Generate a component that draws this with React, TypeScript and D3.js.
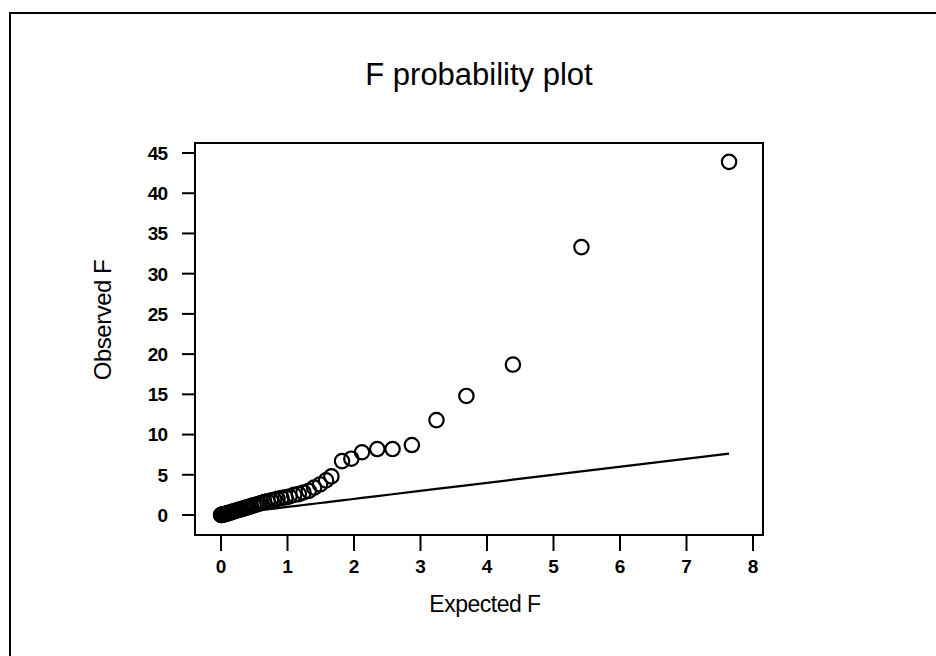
import React from "react";
import * as d3 from "d3";

const title = "F probability plot";
const xLabel = "Expected F";
const yLabel = "Observed F";
const xTicks = [0, 1, 2, 3, 4, 5, 6, 7, 8];
const yTicks = [0, 5, 10, 15, 20, 25, 30, 35, 40, 45];

// Expected F quantiles (x) and observed F (y)
const expectedF = [
  7.64, 5.42, 4.39, 3.69, 3.24, 2.87, 2.58, 2.35, 2.12, 1.96, 1.82, 1.66, 1.58,
  1.49, 1.4, 1.32, 1.24, 1.17, 1.1, 1.03, 0.97, 0.91, 0.85, 0.8, 0.75, 0.7,
  0.65, 0.61, 0.57, 0.53, 0.49, 0.45, 0.42, 0.39, 0.36, 0.33, 0.3, 0.27, 0.25,
  0.22, 0.2, 0.18, 0.16, 0.14, 0.12, 0.105, 0.09, 0.075, 0.06, 0.048, 0.036,
  0.026, 0.017, 0.01, 0.004, 0.001,
];
const observedF = [
  43.9, 33.3, 18.7, 14.8, 11.8, 8.7, 8.2, 8.2, 7.8, 7.0, 6.7, 4.8, 4.3, 3.8,
  3.4, 3.0, 2.8, 2.6, 2.5, 2.3, 2.2, 2.1, 2.0, 1.9, 1.8, 1.7, 1.6, 1.5, 1.4,
  1.3, 1.2, 1.1, 1.0, 0.95, 0.85, 0.8, 0.7, 0.65, 0.6, 0.52, 0.47, 0.42, 0.36,
  0.31, 0.27, 0.23, 0.19, 0.15, 0.12, 0.09, 0.07, 0.05, 0.03, 0.02, 0.01, 0.0,
];

const FONT = "'Liberation Sans', Arial, Helvetica, sans-serif";

export default function App() {
  const box = { left: 195, right: 763, top: 143, bottom: 535 };
  const x = d3.scaleLinear().domain([0, 8]).range([221, 753]);
  const y = d3.scaleLinear().domain([0, 45]).range([515, 153]);

  const pts = expectedF.map((e, i) => ({ e, o: observedF[i] }));
  const refSorted = [...expectedF].sort((a, b) => a - b);
  const line = d3
    .line<number>()
    .x((d) => x(d))
    .y((d) => y(d));

  return (
    <svg
      width={936}
      height={656}
      style={{ position: "absolute", left: 0, top: 0, display: "block", background: "#fff" }}
      fontFamily={FONT}
    >
      <rect x={0} y={0} width={936} height={656} fill="#fff" />
      <rect x={10} y={13} width={940} height={670} fill="none" stroke="#000" strokeWidth={2} />

      <text x={479} y={85} textAnchor="middle" fontSize={31} fill="#000">
        {title}
      </text>

      {/* reference line */}
      <path d={line(refSorted) || ""} fill="none" stroke="#000" strokeWidth={2.2} />

      {/* points */}
      {pts.map((p, i) => (
        <circle
          key={i}
          cx={x(p.e)}
          cy={y(p.o)}
          r={7.2}
          fill="none"
          stroke="#000"
          strokeWidth={2.2}
        />
      ))}

      {/* plot box */}
      <rect
        x={box.left}
        y={box.top}
        width={box.right - box.left}
        height={box.bottom - box.top}
        fill="none"
        stroke="#000"
        strokeWidth={2}
      />

      {/* y axis */}
      {yTicks.map((t) => (
        <g key={"y" + t}>
          <line x1={182} x2={box.left} y1={y(t)} y2={y(t)} stroke="#000" strokeWidth={2} />
          <text
            x={167}
            y={y(t)}
            dy="0.36em"
            textAnchor="end"
            fontSize={19}
            fontWeight="bold"
            letterSpacing={-1}
            fill="#000"
          >
            {t}
          </text>
        </g>
      ))}

      {/* x axis */}
      {xTicks.map((t) => (
        <g key={"x" + t}>
          <line x1={x(t)} x2={x(t)} y1={box.bottom} y2={551} stroke="#000" strokeWidth={2} />
          <text x={x(t)} y={573} textAnchor="middle" fontSize={19} fontWeight="bold" fill="#000">
            {t}
          </text>
        </g>
      ))}

      <text x={485} y={612} textAnchor="middle" fontSize={23} letterSpacing={-0.5} fill="#000">
        {xLabel}
      </text>
      <text
        transform={`translate(111,320) rotate(-90)`}
        textAnchor="middle"
        fontSize={24}
        letterSpacing={-0.5}
        fill="#000"
      >
        {yLabel}
      </text>
    </svg>
  );
}
